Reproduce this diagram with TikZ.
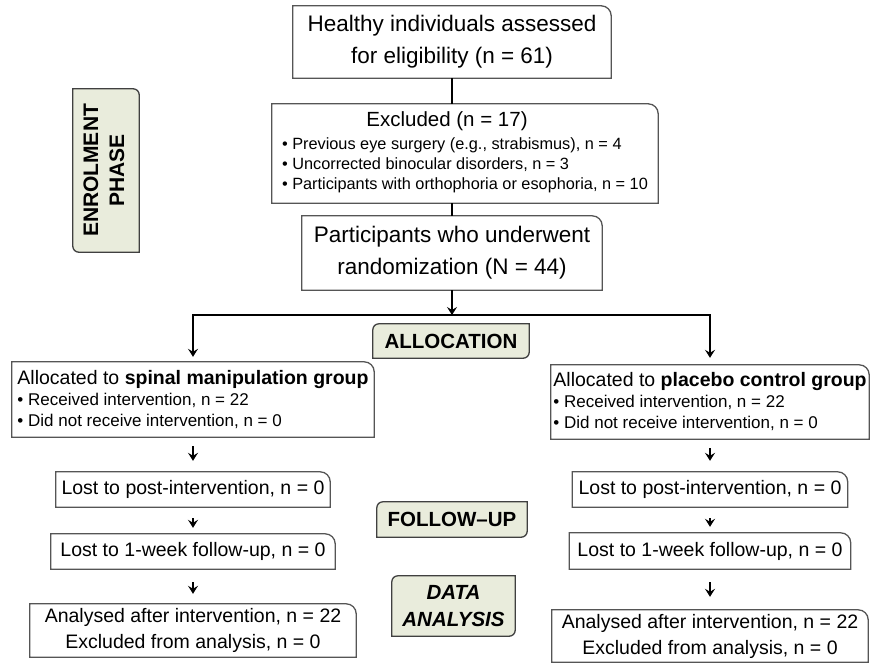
\documentclass[tikz,border=0pt]{standalone}
\usepackage{fontspec}
\setmainfont{Liberation Sans}
\usepackage{graphicx}
\usepackage{tikz}
\usetikzlibrary{arrows.meta,backgrounds}
\definecolor{phasefill}{RGB}{233,236,220}
\definecolor{boxgray}{RGB}{85,85,85}

\begin{document}
\begin{tikzpicture}[x=1pt, y=-1pt,
    box/.style={inner sep=0pt, align=center, font=\fontsize{22.5}{32}\selectfont},
    stepbox/.style={box, font=\fontsize{19.5}{26}\selectfont},
    phase/.style={inner sep=0pt, align=center, font=\fontsize{20.5}{27}\selectfont\bfseries},
    outline/.style={draw=boxgray, line width=1.3pt, fill=white},
    phaseline/.style={draw=black!75, line width=1.3pt, fill=phasefill},
    conn/.style={line width=1.8pt},
    arr/.style={conn, -{Stealth[length=8pt, width=10pt, inset=3pt]}},
]
\useasboundingbox (0,0) rectangle (870,664);

% enrolment
\node[box, minimum width=318, minimum height=72] (elig) at (452,42) {Healthy individuals assessed\\for eligibility (n = 61)};
\node[box, minimum width=386, minimum height=99, font=\fontsize{16.3}{20}\selectfont] (excl) at (465,153.5)
  {\begin{tabular}{@{}l@{}}
   \multicolumn{1}{@{}c@{\hspace{36pt}}}{\fontsize{20.5}{24}\selectfont Excluded (n = 17)}\\[3pt]
   \textbullet\ Previous eye surgery (e.g., strabismus), n = 4\\
   \textbullet\ Uncorrected binocular disorders, n = 3\\
   \textbullet\ Participants with orthophoria or esophoria, n = 10
   \end{tabular}};
\node[box, minimum width=300, minimum height=74] (rand) at (452,253) {Participants who underwent\\randomization (N = 44)};
\node[phase, minimum width=66, minimum height=163, font=\fontsize{21}{26}\selectfont\bfseries] (enrol) at (106,170.5)
  {\rotatebox{90}{\begin{tabular}{@{}c@{}}ENROLMENT\\PHASE\end{tabular}}};

% allocation
\node[phase, minimum width=156, minimum height=34] (alloc) at (451,341) {ALLOCATION};
\node[box, align=left, minimum width=362, minimum height=75, font=\fontsize{17}{21}\selectfont] (la) at (193,399.5)
  {{\fontsize{19.5}{21}\selectfont Allocated to \textbf{spinal manipulation group}}\\
   \textbullet\ Received intervention, n = 22\\
   \textbullet\ Did not receive intervention, n = 0};
\node[box, align=left, minimum width=318, minimum height=74, font=\fontsize{17}{21}\selectfont] (ra) at (710,402)
  {{\fontsize{19.5}{21}\selectfont Allocated to \textbf{placebo control group}}\\
   \textbullet\ Received intervention, n = 22\\
   \textbullet\ Did not receive intervention, n = 0};

% follow-up
\node[phase, minimum width=150, minimum height=35] (follow) at (452,519.5) {FOLLOW–UP};
\node[stepbox, minimum width=274, minimum height=35] (lp) at (193,489.5) {Lost to post-intervention, n = 0};
\node[stepbox, minimum width=275, minimum height=35] (rp) at (710,489.5) {Lost to post-intervention, n = 0};
\node[stepbox, minimum width=284, minimum height=35] (lw) at (193,551.5) {Lost to 1-week follow-up, n = 0};
\node[stepbox, minimum width=281, minimum height=36] (rw) at (710,551) {Lost to 1-week follow-up, n = 0};

% analysis
\node[phase, minimum width=123, minimum height=60, font=\fontsize{20.5}{27}\selectfont\bfseries\itshape] (data) at (453.5,606) {DATA\\ANALYSIS};
\node[stepbox, minimum width=326, minimum height=53] (ld) at (193,630.5) {Analysed after intervention, n = 22\\Excluded from analysis, n = 0};
\node[stepbox, minimum width=316, minimum height=52] (rd) at (710,636) {Analysed after intervention, n = 22\\Excluded from analysis, n = 0};

\begin{pgfonlayer}{background}
\foreach \n in {elig,excl,rand,la,ra,lp,rp,lw,rw,ld,rd}
  \draw[outline] (\n.south west) -- (\n.north west) -- ([xshift=-10pt]\n.north east)
    arc[start angle=90, end angle=0, radius=10pt] -- (\n.south east) -- cycle;
\foreach \n in {alloc,follow,data}
  \draw[phaseline] (\n.south west) -- ([yshift=-6pt]\n.north west) arc[start angle=180, end angle=90, radius=6pt]
    -- (\n.north east) -- ([yshift=6pt]\n.south east) arc[start angle=0, end angle=-90, radius=6pt] -- cycle;
\draw[phaseline] (enrol.north west) -- ([xshift=-6pt]enrol.north east) arc[start angle=90, end angle=0, radius=6pt]
  -- (enrol.south east) -- ([xshift=6pt]enrol.south west) arc[start angle=270, end angle=180, radius=6pt] -- cycle;
\end{pgfonlayer}

% connectors
\coordinate (split) at (452,315);
\draw[conn] (elig.south) -- (elig.south |- excl.north);
\draw[conn] (elig.south |- excl.south) -- (rand.north);
\draw[arr] (rand) -- (split);
\draw[arr, shorten >=5pt] (split) -| (la.north);
\draw[arr, shorten >=7pt] (split) -| (ra.north);

\draw[arr, shorten <=9pt, shorten >=11pt] (la) -- (lp);
\draw[arr, shorten <=11pt, shorten >=6pt] (lp) -- (lw);
\draw[arr, shorten <=13pt, shorten >=10pt] (lw) -- (ld);
\draw[arr, shorten <=9pt, shorten >=11pt] (ra) -- (rp);
\draw[arr, shorten <=11pt, shorten >=6pt] (rp) -- (rw);
\draw[arr, shorten <=13pt, shorten >=13pt] (rw) -- (rd);
\end{tikzpicture}
\end{document}
